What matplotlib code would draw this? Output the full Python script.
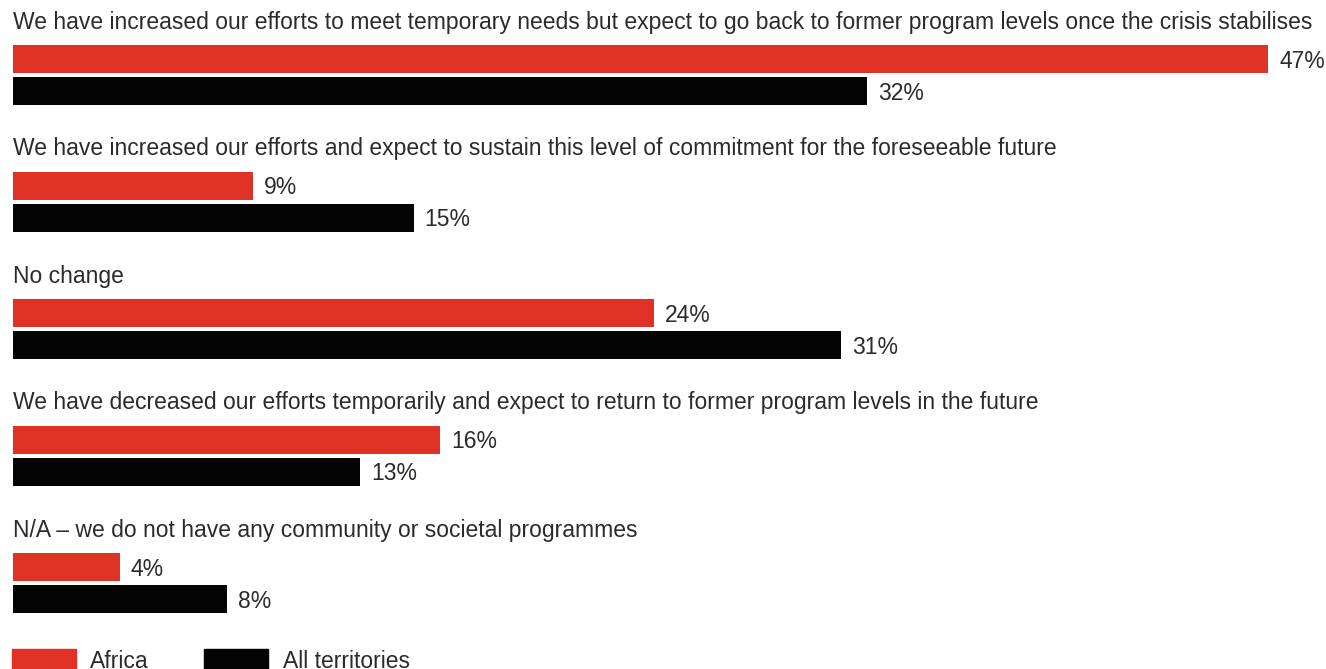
import matplotlib.pyplot as plt
from matplotlib.patches import Rectangle

plt.rcParams['font.family'] = ['Liberation Sans', 'DejaVu Sans']

# Ответы и доли
categories = [
    "We have increased our efforts to meet temporary needs but expect to go back to former program levels once the crisis stabilises",
    "We have increased our efforts and expect to sustain this level of commitment for the foreseeable future",
    "No change",
    "We have decreased our efforts temporarily and expect to return to former program levels in the future",
    "N/A \u2013 we do not have any community or societal programmes",
]
africa = [47, 9, 24, 16, 4]
all_territories = [32, 15, 31, 13, 8]
series_names = ["Africa", "All territories"]

red = '#e03127'
black = '#040404'
text_color = '#2b2b2b'
fs = 16.5

W, H = 1326, 669
fig = plt.figure(figsize=(W / 100, H / 100), dpi=100)
# ось: x от 0 до 47% занимает пиксели 13..1268, y в пикселях сверху вниз
ax = fig.add_axes([13 / W, 0, (1268 - 13) / W, 1])
ax.set_xlim(0, 47)
ax.set_ylim(H, 0)
ax.axis('off')

pitch = 127
first_top = 45
bar_h = 28
gap = 32

for i, cat in enumerate(categories):
    top = first_top + pitch * i
    ax.text(0, top - 23, cat, fontsize=fs, color=text_color, va='center', ha='left')
    for j, (vals, col) in enumerate([(africa, red), (all_territories, black)]):
        y = top + j * gap + bar_h / 2
        ax.barh(y, vals[i], height=bar_h, color=col, left=0)
        ax.annotate(f"{vals[i]}%", (vals[i], y), xytext=(11, -2), textcoords='offset pixels',
                    fontsize=fs, color=text_color, va='center', ha='left', annotation_clip=False)

# Легенда внизу (обрезана краем)
for x0, x1, tx, col, name in [(12, 76, 90, red, series_names[0]), (204, 268, 283, black, series_names[1])]:
    fig.patches.append(Rectangle((x0 / W, -20 / H), (x1 - x0) / W, (H - 649 + 20) / H,
                                 transform=fig.transFigure, color=col))
    fig.text(tx / W, 1 - 661 / H, name, fontsize=fs, color=text_color, va='center', ha='left')

plt.savefig('out.png', dpi=100)
